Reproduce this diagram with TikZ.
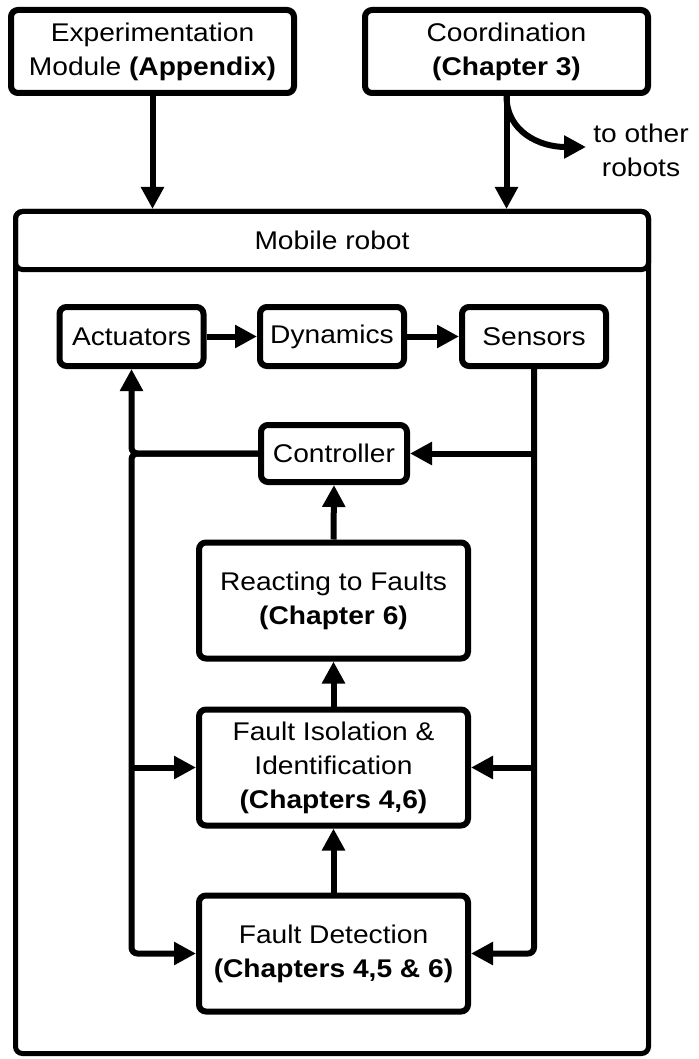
\documentclass[tikz,border=0pt]{standalone}
\usepackage{fontspec}
\setmainfont{Liberation Sans}[FakeStretch=1.1]
\usetikzlibrary{arrows.meta}
\begin{document}
\begin{tikzpicture}[x=1pt,y=-1pt,
  lbl/.style={font=\fontsize{25.6}{34}\selectfont, align=center, inner sep=0pt},
  box/.style={lbl, draw, line width=6pt, rounded corners=7pt, fill=white},
  smallbox/.style={box, minimum width=144pt, minimum height=59pt},
  bigbox/.style={box, minimum width=269pt, minimum height=116pt},
  frame/.style={lbl, draw, line width=5pt, rounded corners=7pt},
  conn/.style={line width=6pt, rounded corners=6pt},
  arr/.style={conn, -{Triangle[length=22pt,width=22pt]}},
]
\useasboundingbox (0,0) rectangle (698,1059);

% outer modules
\node[box, minimum width=283pt, minimum height=83pt] (exp) at (152.5,51.5)
  {Experimentation\\Module \textbf{(Appendix)}};
\node[box, minimum width=283pt, minimum height=83pt] (coord) at (506.5,51.5)
  {Coordination\\\textbf{(Chapter 3)}};

% robot frame with its title bar
\node[frame, minimum width=633pt, minimum height=842pt] (robot) at (332,632.5) {};
\node[frame, minimum width=633pt, minimum height=58pt] (hdr) at (332,240.5) {Mobile robot};

% physical chain
\node[smallbox] (act)  at (131.5,336.5) {Actuators};
\node[smallbox] (dyn)  at (332,336.5)   {Dynamics};
\node[smallbox] (sens) at (534,336.5)   {Sensors};

% control and fault handling stack
\node[smallbox, minimum width=146pt, minimum height=57pt] (ctrl) at (334,453.5) {Controller};
\node[bigbox] (react) at (333.5,600.5) {Reacting to Faults\\\textbf{(Chapter 6)}};
\node[bigbox] (fi)    at (333.5,767.5) {Fault Isolation \&\\Identification\\\textbf{(Chapters 4,6)}};
\node[bigbox] (fd)    at (333.5,953.5) {Fault Detection\\\textbf{(Chapters 4,5 \& 6)}};

% inputs to the robot
\draw[arr] (exp.south) -- (exp.south |- hdr.north);
\draw[arr] (coord.south) -- (coord.south |- hdr.north);
\coordinate (toother) at (586,147);
\draw[arr] (coord.south) .. controls (506.5,132) and (540,147) .. (toother);
\node[lbl] (others) at (641,150) {to other\\robots};

% actuators -> dynamics -> sensors
\draw[arr] (act.east) -- (dyn.west);
\draw[arr] (dyn.east) -- (sens.west);

% controller output to actuators and left feedback bus
\coordinate (lb) at (act.south |- ctrl.west);
\draw[arr] (ctrl.west) -| (act.south);
\draw[arr] (ctrl.west) -- (lb) |- (fd.west);
\draw[arr] (lb |- fi.west) -- (fi.west);

% sensor bus on the right
\draw[arr] (sens.south) |- (fd.east);
\draw[arr] (sens.south |- ctrl.east) -- (ctrl.east);
\draw[arr] (sens.south |- fi.east) -- (fi.east);

% upward flow through the fault handling stack
\draw[arr] (fd.north) -- (fi.south);
\draw[arr] (fi.north) -- (react.south);
\draw[arr] (react.north) -- (ctrl.south);
\end{tikzpicture}
\end{document}
